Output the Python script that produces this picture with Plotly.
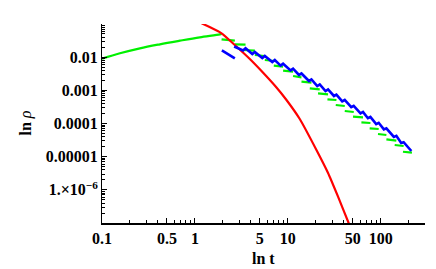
import plotly.graph_objects as go

# ---- data ----
# smooth rising part of the green curve
green_t = [0.1, 0.156, 0.256, 0.42, 0.69, 1.13, 1.86, 1.937]
green_rho = [0.0090, 0.01308, 0.0185, 0.02443, 0.03136, 0.0397, 0.0489, 0.0505]

# green step-like dashes after the maximum
dash_t_start = [1.937, 2.692, 3.282, 4.418, 5.658, 7.072, 8.903, 11.40, 14.04, 17.25, 21.17,
                26.73, 32.82, 41.03, 50.38, 62.02, 76.15, 93.54, 115.2, 141.5, 173.7]
dash_t_end = [2.692, 3.510, 4.418, 5.658, 7.249, 8.903, 11.40, 14.04, 17.98, 22.08, 27.13,
              33.40, 41.03, 51.27, 64.53, 77.49, 95.17, 115.2, 147.5, 176.7, 217.0]
dash_rho_start = [0.03457, 0.02443, 0.01645, 0.01162, 0.008216, 0.005531, 0.003909, 0.002705,
                  0.001822, 0.001152, 0.000814, 0.000537, 0.000361, 0.000238, 0.0001604,
                  0.0001088, 7.17e-5, 4.83e-5, 3.34e-5, 2.25e-5, 1.41e-5]
dash_rho_end = [0.03136, 0.02376, 0.01567, 0.01085, 0.007662, 0.005161, 0.003646, 0.002471,
                0.001699, 0.001075, 0.000760, 0.000511, 0.000337, 0.000222, 0.0001539,
                0.0001036, 6.83e-5, 4.50e-5, 3.03e-5, 2.10e-5, 1.32e-5]

# red curve
red_t = [1.085, 1.228, 1.937, 2.581, 3.903, 5.214, 7.558, 9.683, 13.46, 20.35, 27.13, 34.75, 45.29, 48.77]
red_rho = [0.119, 0.1, 0.0524, 0.02583, 0.008807, 0.003828, 0.001218, 0.000511, 0.0001368,
           1.59e-5, 3.221e-6, 6.22e-7, 9.81e-8, 5.75e-8]

# blue: short early piece and the long wiggly piece
blue1_t = [1.951, 2.692]
blue1_rho = [0.01611, 0.009245]
blue_t = [2.646, 3.298, 3.510, 4.152, 4.417, 5.319, 5.658, 6.813, 7.248, 8.367, 8.901,
          10.718, 11.403, 13.196, 14.04, 16.90, 17.98, 20.76, 22.08, 25.50, 27.13,
          31.39, 33.39, 38.55, 41.02, 48.18, 51.25, 60.65, 64.52, 72.85, 77.50,
          89.46, 95.17, 108.24, 115.15, 138.66, 147.5, 166.2, 176.7, 213.8]
blue_rho = [0.02098, 0.01589, 0.01851, 0.01246, 0.01432, 0.009441, 0.01085, 0.007153, 0.008216,
            0.005570, 0.006356, 0.003991, 0.004507, 0.002901, 0.003218, 0.001913, 0.002122,
            0.001351, 0.001500, 0.000955, 0.001060, 0.000675, 0.000744, 0.000464, 0.000511,
            0.000310, 0.000340, 0.000203, 0.000224, 0.0001446, 0.0001571, 9.60e-5, 1.050e-4,
            6.645e-5, 7.17e-5, 3.946e-5, 4.23e-5, 2.585e-5, 2.732e-5, 1.483e-5]

x_tickvals = [0.1, 0.5, 1, 5, 10, 50, 100]
x_ticktext = ["0.1", "0.5", "1", "5", "10", "50", "100"]
y_tickvals = [0.01, 0.001, 0.0001, 0.00001, 0.000001]
y_ticktext = ["0.01", "0.001", "0.0001", "0.00001", "1.×10<sup>−6</sup>"]

x_range = [0.1, 300]
y_range = [1e-7, 1e-1]

# ---- build ----
FONT = "Liberation Serif"
x_minor = [m * 10 ** e for e in (-1, 0, 1, 2) for m in (2, 3, 4, 6, 7, 8, 9) if m * 10 ** e <= 300]
y_minor = [m * 10.0 ** e for e in (-7, -6, -5, -4, -3, -2) for m in range(2, 10)]

gx, gy = [], []
for ts, te, rs, re in zip(dash_t_start, dash_t_end, dash_rho_start, dash_rho_end):
    gx += [ts, te, None]
    gy += [rs, re, None]

fig = go.Figure()
fig.add_trace(go.Scatter(x=green_t, y=green_rho, mode="lines",
                         line=dict(color="#00f000", width=2.2, shape="spline")))
fig.add_trace(go.Scatter(x=gx, y=gy, mode="lines", connectgaps=False,
                         line=dict(color="#00f000", width=2.2)))
fig.add_trace(go.Scatter(x=red_t, y=red_rho, mode="lines",
                         line=dict(color="#ff0000", width=2.2, shape="spline", smoothing=0.6)))
fig.add_trace(go.Scatter(x=blue1_t, y=blue1_rho, mode="lines",
                         line=dict(color="#0000ff", width=2.6)))
fig.add_trace(go.Scatter(x=blue_t, y=blue_rho, mode="lines",
                         line=dict(color="#0000ff", width=2.6)))

tickfont = dict(family=FONT, size=16, color="black", weight="bold")
xr = [-1, 2.4771]
yr = [-7, -1]
# page body adds an 8px offset; margins compensate for it
fig.update_layout(
    width=436, height=269,
    margin=dict(l=94, r=19, t=16, b=54, autoexpand=False),
    paper_bgcolor="white", plot_bgcolor="white",
    showlegend=False,
    xaxis=dict(type="log", range=xr, tickmode="array", tickvals=x_tickvals,
               ticktext=x_ticktext, ticks="inside", ticklen=5, tickcolor="black",
               showline=True, linecolor="black", linewidth=1.5, showgrid=False,
               zeroline=False, tickfont=tickfont, automargin=False,
               minor=dict(tickmode="array", tickvals=x_minor, ticks="inside", ticklen=3,
                          tickcolor="black", showgrid=False)),
    yaxis=dict(type="log", range=yr, tickmode="array", tickvals=y_tickvals,
               ticktext=y_ticktext, ticks="inside", ticklen=5, tickcolor="black",
               showline=True, linecolor="black", linewidth=1, showgrid=False,
               zeroline=False, tickfont=tickfont, automargin=False,
               minor=dict(tickmode="array", tickvals=y_minor, ticks="inside", ticklen=3,
                          tickcolor="black", showgrid=False)),
    xaxis2=dict(type="log", range=xr, overlaying="x", side="top",
                tickmode="array", tickvals=x_tickvals, showticklabels=False,
                ticks="inside", ticklen=5, tickcolor="#999999", automargin=False,
                showline=True, linecolor="#999999", linewidth=1, showgrid=False,
                minor=dict(tickmode="array", tickvals=x_minor, ticks="inside", ticklen=3,
                           tickcolor="#999999")),
    yaxis2=dict(type="log", range=yr, overlaying="y", side="right",
                tickmode="array", tickvals=y_tickvals, showticklabels=False,
                ticks="inside", ticklen=5, tickcolor="#999999", automargin=False,
                showline=True, linecolor="#999999", linewidth=1, showgrid=False,
                minor=dict(tickmode="array", tickvals=y_minor, ticks="inside", ticklen=3,
                           tickcolor="#999999")),
    annotations=[
        dict(text="<b>ln t</b>", x=0.5, y=0, xref="paper", yref="paper",
             xanchor="center", yanchor="middle", yshift=-35, showarrow=False,
             font=dict(family=FONT, size=16, color="black")),
        dict(text="<b>ln </b><i>ρ</i>", x=0, y=0.5, xref="paper", yref="paper",
             xanchor="center", yanchor="middle", xshift=-77, textangle=-90,
             showarrow=False, font=dict(family=FONT, size=16, color="black")),
    ],
)

fig.write_html("out.html")
